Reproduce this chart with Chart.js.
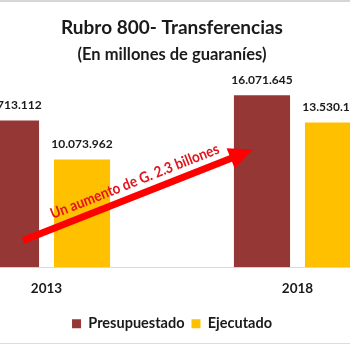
<!DOCTYPE html>
<html>
<head>
<meta charset="utf-8">
<script src="https://cdn.jsdelivr.net/npm/chart.js@4.4.1/dist/chart.umd.min.js"></script>
<style>
  html, body { margin: 0; padding: 0; background: #fff; }
  body { width: 350px; height: 350px; overflow: hidden; position: relative; }
  .frame-top { position: absolute; left: 0; top: 0; width: 350px; height: 2px; background: #d6d6d6; }
  .frame-bottom { position: absolute; left: 0; top: 343px; width: 350px; height: 1px; background: #dcdcdc; }
  .wrap { position: absolute; left: -88px; top: 0; width: 520px; height: 342px; }
</style>
</head>
<body>
<div class="frame-top"></div>
<div class="wrap"><canvas id="barChart"></canvas></div>
<div class="frame-bottom"></div>
<script>
// Rubro 800 - Transferencias, presupuestado vs ejecutado
const years = ['2013', '2018'];
const presupuestado = [13713112, 16071645];
const ejecutado = [10073962, 13530100];
const seriesNames = ['Presupuestado', 'Ejecutado'];
const arrowText = 'Un aumento de G. 2.3 billones';

const FONT = "Lato, 'Open Sans', sans-serif";

function formatGs(v) {
    return String(v).replace(/\B(?=(\d{3})+(?!\d))/g, '.');
}

// value labels above each bar
const valueLabels = {
    id: 'valueLabels',
    afterDatasetsDraw(chart) {
        const ctx = chart.ctx;
        ctx.save();
        ctx.font = 'bold 12px ' + FONT;
        ctx.fillStyle = '#1a1a1a';
        ctx.textAlign = 'center';
        ctx.textBaseline = 'bottom';
        chart.data.datasets.forEach((ds, i) => {
            chart.getDatasetMeta(i).data.forEach((bar, j) => {
                ctx.fillText(formatGs(ds.data[j]), bar.x, bar.y - 9);
            });
        });
        ctx.restore();
    }
};

// red arrow from the 2013 budget bar to the 2018 budget bar
const increaseArrow = {
    id: 'increaseArrow',
    afterDatasetsDraw(chart) {
        const ctx = chart.ctx;
        const y = chart.scales.y;
        const bars = chart.getDatasetMeta(0).data;
        const x0 = bars[0].x + 12, y0 = y.getPixelForValue(2500000);
        const x1 = bars[1].x - 9, y1 = y.getPixelForValue(11000000);
        const ang = Math.atan2(y1 - y0, x1 - x0);
        const len = Math.hypot(x1 - x0, y1 - y0);

        ctx.save();
        ctx.translate(x0, y0);
        ctx.rotate(ang);
        ctx.fillStyle = '#ff0000';
        ctx.fillRect(0, -3.5, len - 22, 7);
        ctx.beginPath();
        ctx.moveTo(len, 0);
        ctx.lineTo(len - 24, -11);
        ctx.lineTo(len - 24, 11);
        ctx.closePath();
        ctx.fill();

        // narrow the lettering a little, like the condensed office font
        ctx.translate(len / 2 + 2, -9);
        ctx.scale(0.9, 1);
        ctx.font = 'bold 15px ' + FONT;
        ctx.fillStyle = '#e3121b';
        ctx.textAlign = 'center';
        ctx.textBaseline = 'alphabetic';
        ctx.fillText(arrowText, 0, 0);
        ctx.restore();
    }
};

new Chart(document.getElementById('barChart'), {
    type: 'bar',
    data: {
        labels: years,
        datasets: [{
            label: seriesNames[0],
            data: presupuestado,
            backgroundColor: '#953735'
        }, {
            label: seriesNames[1],
            data: ejecutado,
            backgroundColor: '#ffc000'
        }]
    },
    options: {
        responsive: true,
        maintainAspectRatio: false,
        animation: false,
        categoryPercentage: 0.566,
        barPercentage: 0.79,
        layout: { padding: { left: 9, right: 9, top: 12, bottom: 1 } },
        plugins: {
            title: {
                display: true,
                text: 'Rubro 800- Transferencias',
                color: '#1a1a1a',
                font: { family: FONT, size: 19, weight: 'bold' },
                padding: { top: 4, bottom: 6 }
            },
            subtitle: {
                display: true,
                text: '(En millones de guaraníes)',
                color: '#1a1a1a',
                font: { family: FONT, size: 16.5, weight: 'bold' },
                padding: { top: 0, bottom: 10 }
            },
            legend: {
                position: 'bottom',
                labels: {
                    color: '#1a1a1a',
                    font: { family: FONT, size: 14.5, weight: 'bold' },
                    boxWidth: 9,
                    boxHeight: 9,
                    padding: 7
                }
            },
            tooltip: { enabled: false }
        },
        scales: {
            x: {
                grid: { display: false, drawTicks: false },
                border: { display: true, color: '#d9d9d9' },
                ticks: {
                    color: '#1a1a1a',
                    padding: 13,
                    font: { family: FONT, size: 13.5, weight: 'bold' }
                }
            },
            y: {
                display: false,
                min: 0,
                max: 18000000
            }
        }
    },
    plugins: [valueLabels, increaseArrow]
});
</script>
</body>
</html>
